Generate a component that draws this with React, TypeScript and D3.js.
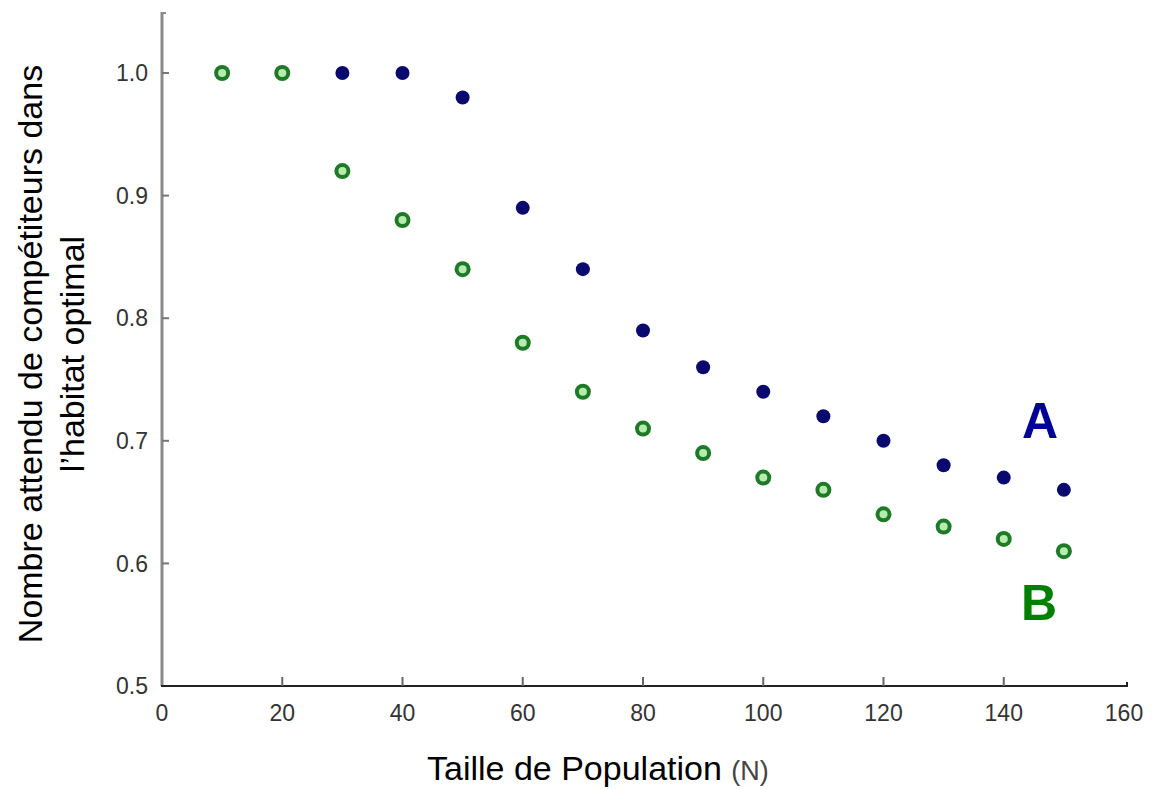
import * as d3 from "d3";

const width = 1152;
const height = 789;
const margin = { left: 162, right: 25, top: 12, bottom: 103 };

const populationSizes = [10, 20, 30, 40, 50, 60, 70, 80, 90, 100, 110, 120, 130, 140, 150];
// null = no point drawn for that size
const seriesA = [null, null, 1.0, 1.0, 0.98, 0.89, 0.84, 0.79, 0.76, 0.74, 0.72, 0.7, 0.68, 0.67, 0.66];
const seriesB = [1.0, 1.0, 0.92, 0.88, 0.84, 0.78, 0.74, 0.71, 0.69, 0.67, 0.66, 0.64, 0.63, 0.62, 0.61];
const xTicks = [0, 20, 40, 60, 80, 100, 120, 140, 160];
const yTicks = [0.5, 0.6, 0.7, 0.8, 0.9, 1.0];

const font = "'Liberation Sans', Arial, sans-serif";

export default function App() {
  const x = d3.scaleLinear().domain([0, 160]).range([margin.left, 1124]);
  const y = d3.scaleLinear().domain([0.5, 1.0]).range([686, 73]);
  const x0 = x(0);
  const y0 = y(0.5);

  const pointsA = populationSizes
    .map((n, i) => ({ n, v: seriesA[i] }))
    .filter((d) => d.v !== null) as { n: number; v: number }[];
  const pointsB = populationSizes.map((n, i) => ({ n, v: seriesB[i] }));

  return (
    <svg width={width} height={height} style={{ position: "absolute", left: 0, top: 0 }}>
      <rect width={width} height={height} fill="#ffffff" />

      {/* y axis */}
      <line x1={x0} x2={x0} y1={margin.top} y2={y0} stroke="#8a8a8a" strokeWidth={3} />
      <line x1={x0} x2={x0 + 4} y1={margin.top + 1} y2={margin.top + 1} stroke="#8a8a8a" strokeWidth={2} />
      {yTicks.map((t) => (
        <g key={t}>
          <line x1={x0} x2={x0 + 7} y1={y(t)} y2={y(t)} stroke="#777" strokeWidth={2} />
          <text
            x={148}
            y={y(t)}
            dy="0.36em"
            textAnchor="end"
            fontFamily={font}
            fontSize={23}
            fill="#333"
          >
            {d3.format(".1f")(t)}
          </text>
        </g>
      ))}

      {/* x axis */}
      <line x1={x0 - 1} x2={1128} y1={y0} y2={y0} stroke="#222" strokeWidth={2} />
      <line x1={1127} x2={1127} y1={y0} y2={y0 - 4} stroke="#222" strokeWidth={2} />
      {xTicks.map((t) => (
        <g key={t}>
          {t > 0 && t < 160 && (
            <line x1={x(t)} x2={x(t)} y1={y0} y2={y0 - 9} stroke="#666" strokeWidth={2} />
          )}
          <text
            x={x(t)}
            y={721}
            textAnchor="middle"
            fontFamily={font}
            fontSize={23}
            fill="#333"
          >
            {t}
          </text>
        </g>
      ))}

      {/* series B */}
      {pointsB.map((d) => (
        <g key={"b" + d.n}>
          <circle cx={x(d.n)} cy={y(d.v)} r={8} fill="#1e7a26" />
          <circle cx={x(d.n)} cy={y(d.v)} r={4} fill="#b6ecb0" />
        </g>
      ))}

      {/* series A */}
      {pointsA.map((d) => (
        <circle key={"a" + d.n} cx={x(d.n)} cy={y(d.v)} r={7} fill="#0a0a6e" />
      ))}

      {/* series labels */}
      <text x={1040} y={438} textAnchor="middle" fontFamily={font} fontWeight="bold" fontSize={50} fill="#000099">
        A
      </text>
      <text x={1039} y={620} textAnchor="middle" fontFamily={font} fontWeight="bold" fontSize={50} fill="#008000">
        B
      </text>

      {/* axis titles */}
      <text x={427} y={780} fontFamily={font} fontSize={34} fill="#000">
        Taille de Population{" "}
        <tspan fontSize={27} fill="#444">
          (N)
        </tspan>
      </text>
      <text
        transform="translate(42,354) rotate(-90)"
        textAnchor="middle"
        fontFamily={font}
        fontSize={34}
        fill="#000"
      >
        <tspan x={0} dy={0}>
          Nombre attendu de compétiteurs dans
        </tspan>
        <tspan x={0} dy={42}>
          l’habitat optimal
        </tspan>
      </text>
    </svg>
  );
}
